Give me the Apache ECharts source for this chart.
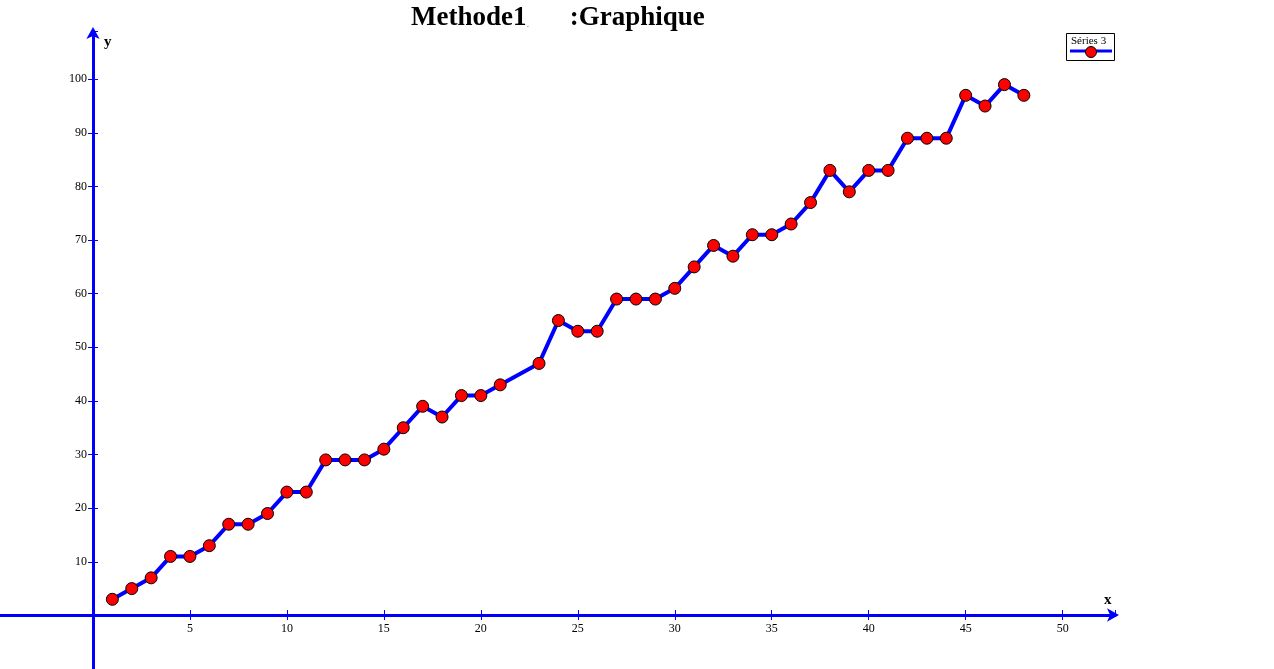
<!DOCTYPE html>
<html><head><meta charset="utf-8">
<script src="https://cdn.jsdelivr.net/npm/echarts@6/dist/echarts.min.js"></script>
<style>html,body{margin:0;padding:0;background:#fff}#c{width:1274px;height:669px}</style>
</head><body><div id="c"></div>
<script>
const xValues = [1,2,3,4,5,6,7,8,9,10,11,12,13,14,15,16,17,18,19,20,21,23,24,25,26,27,28,29,30,31,32,33,34,35,36,37,38,39,40,41,42,43,44,45,46,47,48];
const yValues = [3,5,7,11,11,13,17,17,19,23,23,29,29,29,31,35,39,37,41,41,43,47,55,53,53,59,59,59,61,65,69,67,71,71,73,77,83,79,83,83,89,89,89,97,95,99,97];
const seriesName = 'Séries 3';
const titleMain = 'Methode1';
const titleTail = ':Graphique';

const data = xValues.map((x, i) => [x, yValues[i]]);
const serif = 'Liberation Serif';
const blue = '#0000ff';
const tickFmt = v => (v > 0 ? String(v) : '');
const X_MIN = -5, X_MAX = 52.7, Y_MIN = -10, Y_MAX = 109;
const xOff = -54, yOff = -97;

const chart = echarts.init(document.getElementById('c'), null, {renderer: 'canvas'});
chart.setOption({
  backgroundColor: '#fff',
  animation: false,
  grid: {left: -4, right: 159, top: 31, bottom: 0, containLabel: false, outerBoundsMode: 'none'},
  xAxis: [{
    type: 'value', min: X_MIN, max: X_MAX, interval: 5, position: 'bottom', offset: xOff,
    axisLine: {onZero: false, lineStyle: {color: blue, width: 3}, symbol: ['none', 'arrow'], symbolSize: [10, 12], symbolOffset: [0, 4]},
    axisTick: {show: true, length: 5, lineStyle: {color: blue, width: 1}},
    axisLabel: {formatter: tickFmt, fontFamily: serif, fontSize: 12, color: '#000', margin: 8, showMinLabel: false, showMaxLabel: false},
    splitLine: {show: false}
  }, {
    type: 'value', min: X_MIN, max: X_MAX, interval: 5, position: 'bottom', offset: xOff,
    axisLine: {show: false, onZero: false},
    axisTick: {show: true, inside: true, length: 5, lineStyle: {color: blue, width: 1}},
    axisLabel: {show: false}, splitLine: {show: false}
  }],
  yAxis: [{
    type: 'value', min: Y_MIN, max: Y_MAX, interval: 10, position: 'left', offset: yOff,
    axisLine: {onZero: false, lineStyle: {color: blue, width: 3}, symbol: ['none', 'arrow'], symbolSize: [10, 12], symbolOffset: [0, 4]},
    axisTick: {show: true, length: 5, lineStyle: {color: blue, width: 1}},
    axisLabel: {formatter: tickFmt, fontFamily: serif, fontSize: 12, color: '#000', margin: 6, showMaxLabel: false},
    splitLine: {show: false}
  }, {
    type: 'value', min: Y_MIN, max: Y_MAX, interval: 10, position: 'left', offset: yOff,
    axisLine: {show: false, onZero: false},
    axisTick: {show: true, inside: true, length: 5, lineStyle: {color: blue, width: 1}},
    axisLabel: {show: false}, splitLine: {show: false}
  }],
  series: [{
    name: seriesName, type: 'line', data: data, xAxisIndex: 0, yAxisIndex: 0,
    lineStyle: {color: blue, width: 4},
    symbol: 'circle', symbolSize: 12,
    itemStyle: {color: '#ff0000', borderColor: '#000', borderWidth: 1},
    z: 5
  }],
  graphic: [
    {type: 'text', left: 411, top: 5, style: {
      text: '{a|' + titleMain + '}{b|.}{a|      ' + titleTail + '}',
      rich: {
        a: {fontFamily: serif, fontWeight: 'bold', fontSize: 27, fill: '#000'},
        b: {fontFamily: serif, fontSize: 11, fill: '#c08040', padding: [12, 0, 0, 0]}
      }
    }},
    {type: 'text', left: 104, top: 35, style: {text: 'y', fontFamily: serif, fontWeight: 'bold', fontSize: 15, fill: '#000'}},
    {type: 'text', left: 1104, top: 593, style: {text: 'x', fontFamily: serif, fontWeight: 'bold', fontSize: 15, fill: '#000'}},
    {type: 'rect', shape: {x: 1066.5, y: 33.5, width: 48, height: 27}, style: {fill: '#fff', stroke: '#000', lineWidth: 1}},
    {type: 'text', left: 1071, top: 36, style: {text: seriesName, fontFamily: serif, fontSize: 11, fill: '#000'}},
    {type: 'line', shape: {x1: 1070, y1: 51, x2: 1112, y2: 51}, style: {stroke: blue, lineWidth: 3}},
    {type: 'circle', shape: {cx: 1091, cy: 52, r: 5.5}, style: {fill: '#ff0000', stroke: '#000', lineWidth: 1}}
  ]
});
</script></body></html>
